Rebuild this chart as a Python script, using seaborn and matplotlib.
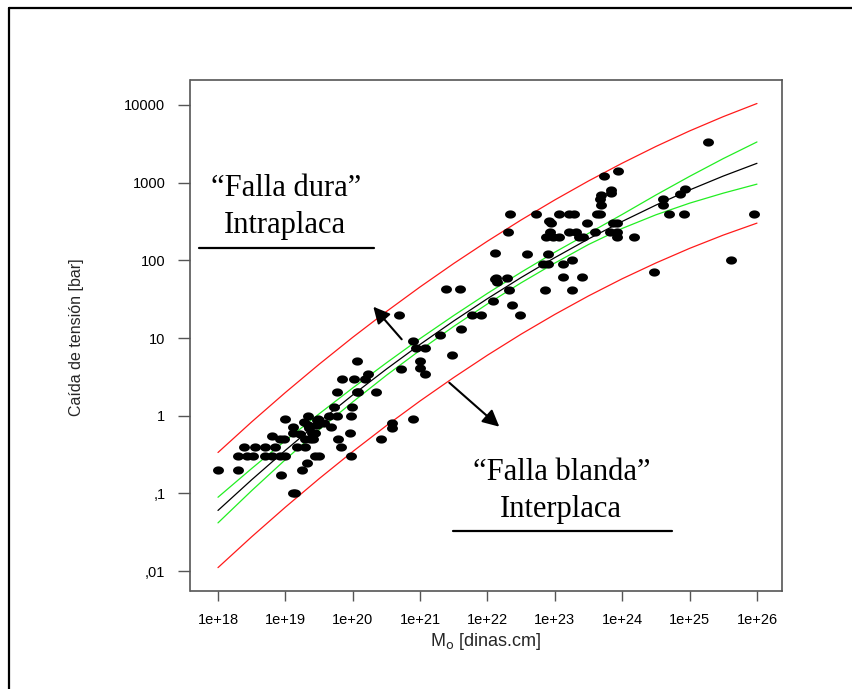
import numpy as np
import pandas as pd
import seaborn as sns
import matplotlib
matplotlib.use("Agg")
import matplotlib.pyplot as plt
from matplotlib.path import Path
from matplotlib.lines import Line2D
from matplotlib.patches import FancyArrowPatch

# ---------------- data ----------------
mo_points = [
    1.0e18, 2.0e18,
    2.0e18, 2.7e18, 3.3e18, 5.0e18, 6.3e18, 8.3e18, 9.8e18, 2.8e19, 3.2e19, 9.5e19,
    2.4e18, 3.5e18, 5.0e18, 7.0e18, 1.5e19, 1.95e19, 6.6e19,
    6.3e18, 8.3e18, 9.7e18, 9.8e18, 8.7e18,
    1.3e19, 1.3e19, 1.3e19, 1.4e19, 1.75e19, 2.1e19,
    1.9e19, 2.2e19, 2.2e19, 2.9e19, 2.9e19, 2.45e19, 2.3e19, 1.95e19, 2.6e19, 1.65e19,
    2.25e19, 2.75e19, 3.0e19, 3.8e19,
    4.5e19, 5.8e19, 4.7e19, 5.2e19, 5.9e19, 6.0e19, 7.0e19, 9.0e19, 9.5e19, 9.8e19,
    1.05e20, 1.15e20, 1.2e20, 1.15e20, 1.5e20, 1.7e20, 2.2e20, 2.6e20, 3.8e20, 3.8e20,
    4.9e20, 5.2e20, 7.8e20, 7.8e20, 8.7e20, 1.0e21, 1.0e21, 1.17e21, 1.17e21,
    1.95e21, 2.4e21, 3.0e21, 3.9e21, 4.0e21, 5.9e21, 7.9e21,
    1.2e22, 1.3e22, 1.3e22, 1.38e22, 1.35e22, 1.95e22, 2.05e22, 2.1e22, 2.15e22, 2.3e22,
    3.0e22, 3.8e22, 5.2e22, 6.6e22, 7.1e22, 7.9e22, 7.9e22, 8.3e22, 8.9e22, 8.5e22,
    7.4e22, 9.3e22, 1.17e23, 1.17e23, 1.3e23, 1.3e23, 1.6e23, 1.8e23, 1.6e23, 1.8e23,
    1.9e23, 2.04e23, 2.3e23, 2.5e23, 2.6e23, 3.0e23, 4.0e23, 4.2e23, 4.6e23,
    4.8e23, 4.6e23, 4.9e23, 5.3e23, 6.9e23, 6.9e23, 7.4e23, 8.3e23, 6.6e23, 8.3e23,
    8.5e23, 8.7e23, 1.5e24, 3.0e24, 4.0e24, 4.0e24, 5.0e24, 7.2e24, 8.5e24, 8.3e24,
    1.9e25, 4.1e25, 9.1e25,
]
stress_points = [
    0.2, 0.2,
    0.3, 0.3, 0.3, 0.3, 0.3, 0.3, 0.3, 0.3, 0.3, 0.3,
    0.4, 0.4, 0.4, 0.4, 0.4, 0.4, 0.4,
    0.55, 0.5, 0.5, 0.9, 0.17,
    0.71, 0.6, 0.1, 0.1, 0.2, 0.245,
    0.84, 0.76, 1.0, 0.88, 0.76, 0.59, 0.5, 0.5, 0.5, 0.58,
    0.7, 0.6, 0.9, 0.8,
    1.0, 1.0, 0.71, 1.3, 2.0, 0.5, 3.0, 0.6, 1.0, 1.3,
    3.0, 5.0, 2.0, 2.0, 3.0, 3.4, 2.0, 0.5, 0.8, 0.7,
    20, 4.0, 9.2, 0.9, 7.4, 5.1, 4.1, 7.4, 3.4,
    11, 43, 6.0, 43, 13, 20, 20,
    30, 123, 57, 53, 60, 60, 234, 41, 400, 27,
    20, 122, 400, 91, 42, 122, 91, 320, 300, 234,
    200, 200, 400, 200, 91, 61, 234, 100, 400, 42,
    400, 234, 200, 61, 200, 300, 234, 400, 400,
    700, 610, 520, 1220, 810, 740, 305, 305, 234, 230,
    200, 1410, 200, 71, 610, 520, 400, 720, 820, 400,
    3340, 100, 400,
]

curve_log_mo = [18.0, 18.5, 19.0, 19.5, 20.0, 20.5, 21.0, 21.5, 22.0,
                22.5, 23.0, 23.5, 24.0, 24.5, 25.0, 25.5, 26.0]
fit_log = [-1.220, -0.825, -0.446, -0.082, 0.267, 0.600, 0.918, 1.220, 1.507,
           1.779, 2.035, 2.276, 2.501, 2.711, 2.906, 3.085, 3.249]
conf_upper_log = [-1.050, -0.680, -0.321, 0.023, 0.357, 0.680, 0.993, 1.290, 1.575,
                  1.847, 2.105, 2.348, 2.591, 2.841, 3.081, 3.310, 3.524]
conf_lower_log = [-1.380, -0.965, -0.566, -0.182, 0.177, 0.520, 0.843, 1.150, 1.439,
                  1.711, 1.965, 2.204, 2.411, 2.586, 2.736, 2.865, 2.981]
pred_upper_log = [-0.474, -0.080, 0.298, 0.661, 1.009, 1.341, 1.658, 1.960, 2.247,
                  2.520, 2.778, 3.022, 3.251, 3.466, 3.666, 3.850, 4.019]
pred_lower_log = [-1.956, -1.559, -1.178, -0.812, -0.462, -0.128, 0.190, 0.492, 0.779,
                  1.050, 1.304, 1.542, 1.763, 1.966, 2.154, 2.325, 2.479]

x_ticks = [1e18, 1e19, 1e20, 1e21, 1e22, 1e23, 1e24, 1e25, 1e26]
x_tick_labels = ["1e+18", "1e+19", "1e+20", "1e+21", "1e+22", "1e+23", "1e+24", "1e+25", "1e+26"]
y_ticks = [0.01, 0.1, 1, 10, 100, 1000, 10000]
y_tick_labels = [",01", ",1", "1", "10", "100", "1000", "10000"]

# ---------------- figure ----------------
sns.set_theme(style="white")
plt.rcParams["font.family"] = ["Liberation Sans", "DejaVu Sans"]

W, H = 853, 689
fig = plt.figure(figsize=(W / 100, H / 100), dpi=100)
fig.patch.set_facecolor("white")

def fx(px):
    return px / W

def fy(py):
    return 1 - py / H

ax = fig.add_axes([fx(190.5), fy(591), fx(781.7) - fx(190.5), fy(79.5) - fy(591)])
ax.set_facecolor("white")

df_pts = pd.DataFrame({"Mo": mo_points, "stress": stress_points})

curves = pd.DataFrame({
    "Mo": 10.0 ** np.array(curve_log_mo),
    "fit": 10.0 ** np.array(fit_log),
    "cu": 10.0 ** np.array(conf_upper_log),
    "cl": 10.0 ** np.array(conf_lower_log),
    "pu": 10.0 ** np.array(pred_upper_log),
    "pl": 10.0 ** np.array(pred_lower_log),
})

ax.set_xscale("log")
ax.set_yscale("log")

for col, color in [("pu", "#ff1a1a"), ("pl", "#ff1a1a"), ("cu", "#22ee22"), ("cl", "#22ee22"), ("fit", "black")]:
    sns.lineplot(data=curves, x="Mo", y=col, ax=ax, color=color, linewidth=0.9,
                 estimator=None, sort=True, legend=False)

# elliptical marker (wider than tall)
t = np.linspace(0, 2 * np.pi, 60)
ell = Path(np.column_stack([np.cos(t), 0.75 * np.sin(t)]), closed=True)
sns.scatterplot(data=df_pts, x="Mo", y="stress", ax=ax, marker=ell, s=62,
                color="black", edgecolor="black", linewidth=0, legend=False, zorder=5)

ax.set_xlim(10 ** 17.592, 10 ** 26.367)
ax.set_ylim(10 ** -2.257, 10 ** 4.328)

ax.set_xticks(x_ticks)
ax.set_xticklabels(x_tick_labels)
ax.set_yticks(y_ticks)
ax.set_yticklabels(y_tick_labels)
ax.minorticks_off()
ax.tick_params(axis="both", which="both", direction="out", color="#555555",
               labelsize=10.5, labelcolor="black", width=1.0)
ax.tick_params(axis="x", length=7, pad=9)
ax.tick_params(axis="y", length=9, pad=9)
ax.xaxis.set_ticks_position("bottom")
ax.yaxis.set_ticks_position("left")
for sp in ax.spines.values():
    sp.set_color("#555555")
    sp.set_linewidth(1.2)
    sp.set_visible(True)

ax.set_xlabel("")
ax.set_ylabel("")

fig.text(fx(486), fy(641), "M$_{\\mathrm{o}}$ [dinas.cm]", ha="center", va="center", fontsize=13)
fig.text(fx(76), fy(337), "Caída de tensión [bar]", ha="center", va="center",
         rotation=90, fontsize=11.5)

serif = ["Liberation Serif", "DejaVu Serif"]
fig.text(fx(286), fy(189), "\u201cFalla dura\u201d", ha="center", va="center",
         fontsize=22, family=serif, color="black")
fig.text(fx(285), fy(226), "Intraplaca", ha="center", va="center",
         fontsize=22, family=serif, color="black")
fig.add_artist(Line2D([fx(199), fx(374)], [fy(247.5), fy(247.5)], color="black", linewidth=1.6))

fig.text(fx(562), fy(472), "\u201cFalla blanda\u201d", ha="center", va="center",
         fontsize=22, family=serif, color="black")
fig.text(fx(561), fy(509), "Interplaca", ha="center", va="center",
         fontsize=22, family=serif, color="black")
fig.add_artist(Line2D([fx(453), fx(672)], [fy(530.5), fy(530.5)], color="black", linewidth=1.6))

arrow_kw = dict(arrowstyle="-|>,head_length=0.5,head_width=0.25", color="black", lw=1.5,
                shrinkA=0, shrinkB=0, mutation_scale=20)
fig.add_artist(FancyArrowPatch((fx(401.7), fy(339.3)), (fx(373.3), fy(306.7)),
                               transform=fig.transFigure, **arrow_kw))
fig.add_artist(FancyArrowPatch((fx(449.3), fy(382.7)), (fx(499.3), fy(426.7)),
                               transform=fig.transFigure, **arrow_kw))

# outer frame (top and left edges visible)
fig.add_artist(Line2D([fx(9), fx(853)], [fy(8), fy(8)], color="black", linewidth=1.6))
fig.add_artist(Line2D([fx(9), fx(9)], [fy(8), fy(689)], color="black", linewidth=1.6))

fig.savefig("out.png", dpi=100, facecolor="white")
